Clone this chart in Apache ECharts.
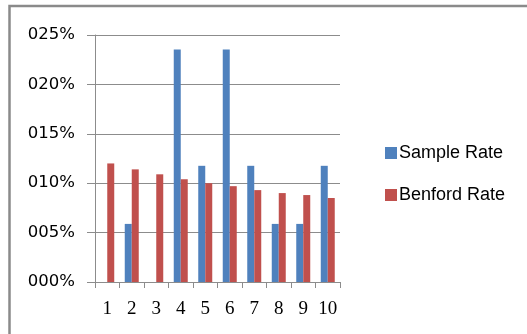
<!DOCTYPE html>
<html>
<head>
<meta charset="utf-8">
<script src="https://cdn.jsdelivr.net/npm/echarts@6/dist/echarts.min.js"></script>
<style>
html,body{margin:0;padding:0;background:#fff;}
#c{width:527px;height:334px;}
</style>
</head>
<body>
<div id="c"></div>
<script>
const categories = ['1','2','3','4','5','6','7','8','9','10'];
const sampleRate = [0, 0.0588, 0, 0.2353, 0.1176, 0.2353, 0.1176, 0.0588, 0.0588, 0.1176];
const benfordRate = [0.120, 0.114, 0.109, 0.104, 0.100, 0.097, 0.093, 0.090, 0.088, 0.085];
const yTickLabels = ['000%','005%','010%','015%','020%','025%'];
const seriesNames = ['Sample Rate','Benford Rate'];

const chart = echarts.init(document.getElementById('c'), null, {renderer:'canvas'});
const gridColor = '#8c8c8c';
chart.setOption({
  animation:false,
  backgroundColor:'#ffffff',
  graphic:[{type:'rect', shape:{x:9.5,y:6,width:700,height:500}, style:{fill:null, stroke:'#8a8a8a', lineWidth:2.5}, silent:true}],
  grid:{left:95, right:187, top:35, bottom:52, containLabel:false},
  legend:{
    orient:'vertical', left:380, top:139, itemWidth:12, itemHeight:12, itemGap:24,
    icon:'rect',
    textStyle:{fontFamily:'Liberation Sans', fontSize:18, color:'#000', padding:[0,0,0,-3]},
    data:seriesNames
  },
  xAxis:{
    type:'category', data:categories,
    axisLine:{show:true, lineStyle:{color:gridColor, width:1}},
    axisTick:{show:true, length:6, lineStyle:{color:gridColor}},
    axisLabel:{fontFamily:'Liberation Serif', fontSize:19, color:'#000', margin:18, interval:0}
  },
  yAxis:{
    type:'value', min:0, max:0.25, interval:0.05,
    axisLine:{show:true, lineStyle:{color:gridColor, width:1}},
    axisTick:{show:true, length:8, lineStyle:{color:gridColor}},
    splitLine:{show:true, lineStyle:{color:gridColor, width:1}},
    axisLabel:{fontFamily:'DejaVu Sans', fontSize:16.5, color:'#000', margin:20,
      formatter:function(v){ return yTickLabels[Math.round(v/0.05)]; }}
  },
  series:[
    {name:seriesNames[0], type:'bar', data:sampleRate, barWidth:7, barGap:'0%', itemStyle:{color:'#4F81BD'}},
    {name:seriesNames[1], type:'bar', data:benfordRate, barWidth:7, barGap:'0%', itemStyle:{color:'#C0504D'}}
  ]
});
</script>
</body>
</html>
